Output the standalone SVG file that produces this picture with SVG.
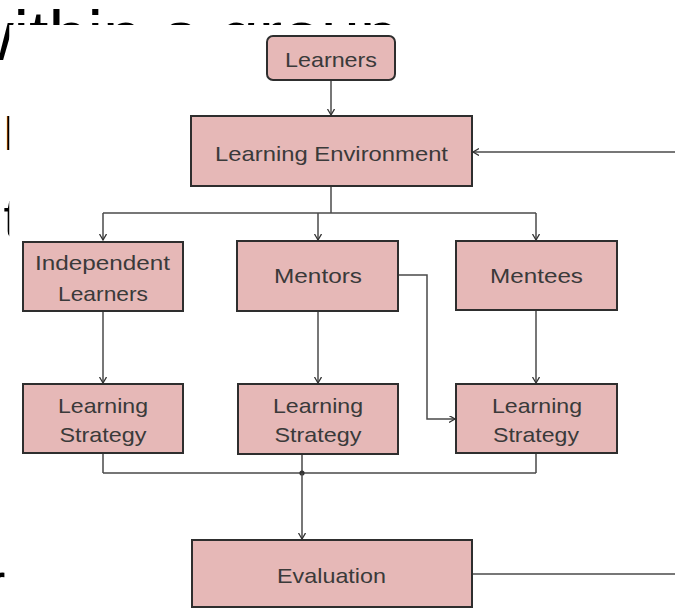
<svg xmlns="http://www.w3.org/2000/svg" width="675" height="609" viewBox="0 0 675 609">
  <style>
    .bg { font-family: "Liberation Sans", Arial, sans-serif; fill: #000; }
    .box { fill: #e6b8b7; stroke: #2e2e2e; stroke-width: 2; }
    .lbl { font-family: "Liberation Sans", Arial, sans-serif; font-size: 21px; fill: #3a3a3a; text-anchor: middle; }
    .wire { fill: none; stroke: #4a4a4a; stroke-width: 1.5; }
  </style>
  <defs>
    <marker id="arrow" markerUnits="userSpaceOnUse" markerWidth="10" markerHeight="10" refX="6" refY="3.5" orient="auto">
      <path d="M0,0 L6,3.5 L0,7" fill="none" stroke="#333" stroke-width="1.3"/>
    </marker>
    <!-- only the strip above and left of the figure canvas stays visible -->
    <clipPath id="outside-canvas">
      <rect x="-60" y="0" width="735" height="25"/>
      <rect x="-60" y="0" width="69.5" height="609"/>
    </clipPath>
  </defs>

  <!-- slide text behind the figure -->
  <g id="slide-text" clip-path="url(#outside-canvas)">
    <text class="bg" x="-37" y="60" font-size="70">within a group</text>
    <text class="bg" x="4" y="150" font-size="47">l</text>
    <text class="bg" x="3.6" y="237" font-size="55">t</text>
    <text class="bg" x="-13" y="602" font-size="55">r</text>
  </g>

  <!-- white figure canvas -->
  <rect x="9.5" y="25" width="666" height="584" fill="#fff"/>

  <g id="connectors">
    <path class="wire" d="M331,80 V115" marker-end="url(#arrow)"/>
    <path class="wire" d="M675,152 H473" marker-end="url(#arrow)"/>
    <path class="wire" d="M331,186 V213"/>
    <path class="wire" d="M103,213 H536"/>
    <path class="wire" d="M103,213 V240" marker-end="url(#arrow)"/>
    <path class="wire" d="M318,213 V240" marker-end="url(#arrow)"/>
    <path class="wire" d="M536,213 V240" marker-end="url(#arrow)"/>
    <path class="wire" d="M103,311 V383" marker-end="url(#arrow)"/>
    <path class="wire" d="M318,311 V383" marker-end="url(#arrow)"/>
    <path class="wire" d="M536,310 V383" marker-end="url(#arrow)"/>
    <path class="wire" d="M398,275 H427 V419 H455" marker-end="url(#arrow)"/>
    <path class="wire" d="M103,453 V473 M302,454 V473 M536,453 V473 M103,473 H536"/>
    <circle cx="302" cy="473" r="2.6" fill="#333"/>
    <path class="wire" d="M302,473 V539" marker-end="url(#arrow)"/>
    <path class="wire" d="M472,574 H675"/>
  </g>

  <g id="learners">
    <rect class="box" x="267" y="36" width="128" height="44" rx="6"/>
    <text class="lbl" x="331" y="67" textLength="92" lengthAdjust="spacingAndGlyphs">Learners</text>
  </g>
  <g id="learning-environment">
    <rect class="box" x="191" y="116" width="281" height="70"/>
    <text class="lbl" x="331.5" y="161" textLength="233" lengthAdjust="spacingAndGlyphs">Learning Environment</text>
  </g>
  <g id="independent-learners">
    <rect class="box" x="23" y="242" width="160" height="69"/>
    <text class="lbl" x="102.5" y="270" textLength="135" lengthAdjust="spacingAndGlyphs">Independent</text>
    <text class="lbl" x="103" y="301" textLength="90" lengthAdjust="spacingAndGlyphs">Learners</text>
  </g>
  <g id="mentors">
    <rect class="box" x="237" y="241" width="161" height="70"/>
    <text class="lbl" x="318" y="283" textLength="88" lengthAdjust="spacingAndGlyphs">Mentors</text>
  </g>
  <g id="mentees">
    <rect class="box" x="456" y="241" width="161" height="69"/>
    <text class="lbl" x="536.5" y="283" textLength="93" lengthAdjust="spacingAndGlyphs">Mentees</text>
  </g>
  <g id="strategy-independent">
    <rect class="box" x="23" y="384" width="160" height="69"/>
    <text class="lbl" x="103" y="413" textLength="90" lengthAdjust="spacingAndGlyphs">Learning</text>
    <text class="lbl" x="103" y="442" textLength="87" lengthAdjust="spacingAndGlyphs">Strategy</text>
  </g>
  <g id="strategy-mentors">
    <rect class="box" x="238" y="384" width="160" height="70"/>
    <text class="lbl" x="318" y="413" textLength="90" lengthAdjust="spacingAndGlyphs">Learning</text>
    <text class="lbl" x="318" y="442" textLength="87" lengthAdjust="spacingAndGlyphs">Strategy</text>
  </g>
  <g id="strategy-mentees">
    <rect class="box" x="456" y="384" width="161" height="69"/>
    <text class="lbl" x="537" y="413" textLength="90" lengthAdjust="spacingAndGlyphs">Learning</text>
    <text class="lbl" x="536" y="442" textLength="86" lengthAdjust="spacingAndGlyphs">Strategy</text>
  </g>
  <g id="evaluation">
    <rect class="box" x="192" y="540" width="280" height="67"/>
    <text class="lbl" x="331.5" y="583" textLength="109" lengthAdjust="spacingAndGlyphs">Evaluation</text>
  </g>
</svg>
